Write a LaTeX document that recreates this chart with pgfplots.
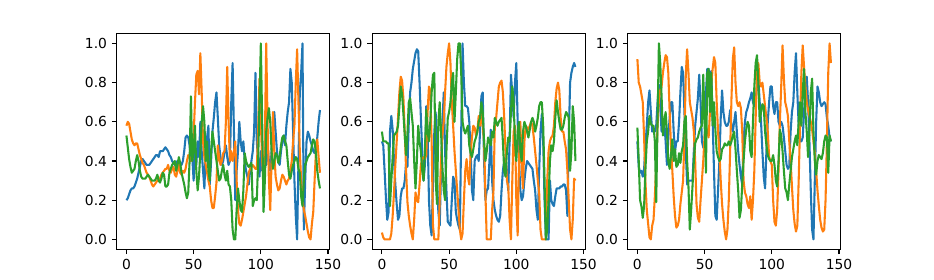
\documentclass[border=0pt]{standalone}
\usepackage{fontspec}
\setmainfont{DejaVu Sans}
\usepackage{pgfplots}
\usepackage{pgfplotstable}
\pgfplotsset{compat=1.18}
\definecolor{c0}{HTML}{1F77B4}
\definecolor{c1}{HTML}{FF7F0E}
\definecolor{c2}{HTML}{2CA02C}
\pgfplotstableread{
x b o g
0 0.20 0.58 0.53
1 0.21 0.60 0.47
2 0.23 0.59 0.41
3 0.25 0.55 0.37
4 0.26 0.51 0.34
5 0.26 0.49 0.35
6 0.27 0.48 0.36
7 0.29 0.49 0.40
8 0.31 0.49 0.43
9 0.34 0.46 0.40
10 0.37 0.43 0.35
11 0.40 0.41 0.32
12 0.41 0.39 0.31
13 0.40 0.38 0.31
14 0.39 0.36 0.31
15 0.38 0.34 0.32
16 0.38 0.33 0.33
17 0.38 0.32 0.32
18 0.39 0.30 0.31
19 0.40 0.28 0.30
20 0.41 0.27 0.30
21 0.42 0.28 0.30
22 0.43 0.29 0.31
23 0.43 0.30 0.33
24 0.42 0.31 0.30
25 0.45 0.31 0.29
26 0.45 0.33 0.31
27 0.45 0.34 0.34
28 0.46 0.35 0.33
29 0.47 0.36 0.27
30 0.46 0.36 0.27
31 0.45 0.38 0.28
32 0.43 0.35 0.34
33 0.42 0.34 0.36
34 0.40 0.36 0.38
35 0.39 0.37 0.39
36 0.38 0.33 0.40
37 0.39 0.32 0.35
38 0.40 0.35 0.38
39 0.40 0.39 0.42
40 0.39 0.34 0.39
41 0.38 0.33 0.34
42 0.40 0.35 0.31
43 0.45 0.34 0.28
44 0.52 0.36 0.24
45 0.53 0.40 0.21
46 0.52 0.43 0.24
47 0.48 0.42 0.40
48 0.40 0.40 0.73
49 0.42 0.41 0.40
50 0.30 0.53 0.45
51 0.45 0.70 0.58
52 0.38 0.84 0.35
53 0.50 0.86 0.25
54 0.42 0.74 0.32
55 0.60 0.95 0.45
56 0.45 0.75 0.60
57 0.35 0.50 0.68
58 0.26 0.42 0.60
59 0.45 0.38 0.40
60 0.52 0.34 0.50
61 0.58 0.30 0.35
62 0.28 0.27 0.30
63 0.40 0.20 0.45
64 0.55 0.16 0.55
65 0.62 0.16 0.50
66 0.70 0.22 0.45
67 0.75 0.29 0.40
68 0.62 0.48 0.35
69 0.48 0.42 0.30
70 0.42 0.38 0.31
71 0.38 0.40 0.35
72 0.40 0.44 0.38
73 0.45 0.45 0.33
74 0.48 0.60 0.30
75 0.42 0.88 0.35
76 0.38 0.60 0.28
77 0.40 0.40 0.27
78 0.70 0.45 0.20
79 0.90 0.40 0.05
80 0.55 0.44 0.00
81 0.20 0.50 0.00
82 0.35 0.30 0.15
83 0.45 0.15 0.26
84 0.60 0.08 0.20
85 0.50 0.07 0.15
86 0.45 0.10 0.14
87 0.50 0.14 0.25
88 0.40 0.18 0.44
89 0.35 0.22 0.40
90 0.32 0.28 0.38
91 0.28 0.34 0.37
92 0.35 0.36 0.38
93 0.40 0.37 0.39
94 0.45 0.38 0.17
95 0.55 0.37 0.20
96 0.85 0.36 0.21
97 0.50 0.36 0.20
98 0.40 0.55 0.40
99 0.32 0.82 0.70
100 0.45 0.60 1.00
101 0.35 0.40 0.60
102 0.42 0.30 0.14
103 0.40 0.50 0.30
104 0.38 1.00 0.55
105 0.48 0.60 0.62
106 0.40 0.30 0.67
107 0.35 0.15 0.60
108 0.45 0.40 0.45
109 0.55 0.65 0.36
110 0.65 0.45 0.40
111 0.55 0.32 0.44
112 0.45 0.28 0.43
113 0.40 0.25 0.39
114 0.38 0.26 0.42
115 0.45 0.30 0.48
116 0.50 0.33 0.52
117 0.53 0.32 0.53
118 0.48 0.30 0.50
119 0.58 0.28 0.48
120 0.65 0.30 0.40
121 0.70 0.31 0.33
122 0.87 0.35 0.31
123 0.80 0.40 0.35
124 0.55 0.50 0.38
125 0.30 0.58 0.40
126 0.12 0.80 0.42
127 0.00 0.97 0.41
128 0.40 0.70 0.36
129 0.75 0.45 0.34
130 0.85 0.30 0.22
131 1.00 0.20 0.17
132 0.05 0.15 0.30
133 0.30 0.12 0.38
134 0.50 0.08 0.40
135 0.55 0.04 0.42
136 0.53 0.01 0.43
137 0.50 0.00 0.44
138 0.48 0.08 0.48
139 0.45 0.14 0.51
140 0.44 0.30 0.50
141 0.47 0.45 0.44
142 0.52 0.51 0.35
143 0.60 0.42 0.30
144 0.66 0.34 0.26
}\tA
\pgfplotstableread{
x b o g
0 0.50 0.035 0.55
1 0.48 0.01 0.50
2 0.35 0.00 0.50
3 0.21 0.00 0.50
4 0.10 0.00 0.49
5 0.14 0.00 0.49
6 0.55 0.00 0.17
7 0.63 0.03 0.30
8 0.56 0.12 0.42
9 0.40 0.24 0.53
10 0.28 0.38 0.54
11 0.18 0.50 0.55
12 0.10 0.62 0.58
13 0.12 0.75 0.68
14 0.22 0.83 0.78
15 0.26 0.81 0.74
16 0.26 0.72 0.64
17 0.30 0.55 0.53
18 0.39 0.35 0.43
19 0.37 0.19 0.54
20 0.60 0.12 0.70
21 0.75 0.07 0.72
22 0.80 0.03 0.65
23 0.87 0.00 0.58
24 0.91 0.10 0.40
25 0.95 0.24 0.26
26 0.97 0.20 0.40
27 0.96 0.19 0.58
28 0.80 0.28 0.50
29 0.62 0.38 0.45
30 0.45 0.41 0.35
31 0.30 0.42 0.30
32 0.38 0.41 0.45
33 0.68 0.43 0.66
34 0.55 0.65 0.55
35 0.20 0.78 0.50
36 0.07 0.76 0.60
37 0.02 0.50 0.75
38 0.30 0.07 0.84
39 0.55 0.00 0.85
40 0.65 0.00 0.30
41 0.30 0.00 0.18
42 0.14 0.00 0.60
43 0.07 0.20 0.70
44 0.35 0.40 0.55
45 0.58 0.53 0.37
46 0.75 0.60 0.25
47 0.45 0.75 0.20
48 0.25 0.88 0.45
49 0.09 0.95 0.62
50 0.08 1.00 0.65
51 0.07 0.90 0.70
52 0.20 0.70 0.80
53 0.32 0.58 0.85
54 0.30 0.45 0.60
55 0.14 0.35 0.75
56 0.10 0.25 0.92
57 0.07 0.15 1.00
58 0.05 0.05 1.00
59 0.55 0.00 0.85
60 1.00 0.03 0.60
61 0.80 0.20 0.56
62 0.68 0.35 0.54
63 0.68 0.41 0.56
64 0.67 0.32 0.58
65 0.60 0.28 0.48
66 0.45 0.44 0.44
67 0.25 0.52 0.42
68 0.20 0.58 0.46
69 0.40 0.57 0.50
70 0.42 0.53 0.52
71 0.43 0.55 0.55
72 0.40 0.63 0.60
73 0.55 0.58 0.62
74 0.73 0.65 0.70
75 0.75 0.58 0.65
76 0.40 0.50 0.50
77 0.20 0.24 0.40
78 0.25 0.00 0.45
79 0.26 0.00 0.52
80 0.40 0.00 0.50
81 0.56 0.00 0.48
82 0.30 0.15 0.55
83 0.20 0.25 0.52
84 0.15 0.58 0.62
85 0.12 0.62 0.60
86 0.10 0.70 0.58
87 0.09 0.78 0.60
88 0.12 0.80 0.61
89 0.25 0.81 0.62
90 0.35 0.75 0.50
91 0.40 0.62 0.35
92 0.42 0.45 0.32
93 0.33 0.30 0.45
94 0.25 0.27 0.52
95 0.50 0.10 0.50
96 0.84 0.00 0.65
97 0.75 0.30 0.78
98 0.62 0.55 0.70
99 0.80 0.58 0.50
100 0.90 0.20 0.40
101 0.60 0.02 0.55
102 0.40 0.40 0.60
103 0.25 0.60 0.45
104 0.20 0.36 0.40
105 0.22 0.26 0.55
106 0.30 0.50 0.60
107 0.36 0.58 0.58
108 0.40 0.57 0.55
109 0.39 0.56 0.52
110 0.38 0.58 0.56
111 0.37 0.60 0.60
112 0.36 0.58 0.62
113 0.30 0.52 0.60
114 0.25 0.45 0.55
115 0.15 0.38 0.58
116 0.10 0.30 0.62
117 0.35 0.24 0.68
118 0.55 0.05 0.70
119 0.64 0.00 0.70
120 0.50 0.00 0.58
121 0.20 0.00 0.30
122 0.00 0.00 0.00
123 0.00 0.30 0.05
124 0.00 0.45 0.20
125 0.30 0.50 0.40
126 0.20 0.52 0.48
127 0.18 0.53 0.45
128 0.17 0.58 0.50
129 0.22 0.70 0.62
130 0.26 0.77 0.71
131 0.26 0.80 0.65
132 0.26 0.76 0.60
133 0.27 0.62 0.56
134 0.27 0.55 0.56
135 0.28 0.55 0.58
136 0.28 0.50 0.62
137 0.25 0.46 0.65
138 0.12 0.35 0.64
139 0.50 0.20 0.62
140 0.80 0.05 0.35
141 0.85 0.00 0.45
142 0.88 0.10 0.68
143 0.90 0.31 0.60
144 0.88 0.30 0.40
}\tB
\pgfplotstableread{
x b o g
0 0.50 0.92 0.57
1 0.37 0.80 0.40
2 0.34 0.78 0.20
3 0.35 0.74 0.17
4 0.32 0.70 0.11
5 0.36 0.52 0.17
6 0.48 0.29 0.36
7 0.58 0.15 0.50
8 0.70 0.08 0.55
9 0.76 0.01 0.63
10 0.65 0.00 0.59
11 0.55 0.07 0.58
12 0.56 0.10 0.58
13 0.55 0.22 0.50
14 0.58 0.38 0.19
15 0.70 0.58 0.60
16 0.79 0.71 1.00
17 0.68 0.76 0.90
18 0.55 0.78 0.73
19 0.55 0.85 0.53
20 0.60 0.90 0.60
21 0.50 0.94 0.65
22 0.38 0.93 0.55
23 0.52 0.85 0.40
24 0.62 0.65 0.36
25 0.70 0.48 0.43
26 0.70 0.35 0.51
27 0.55 0.22 0.40
28 0.45 0.12 0.46
29 0.50 0.06 0.37
30 0.50 0.07 0.38
31 0.60 0.10 0.44
32 0.75 0.18 0.39
33 0.88 0.24 0.45
34 0.85 0.30 0.48
35 0.65 0.52 0.60
36 0.45 0.84 0.63
37 0.28 0.97 0.40
38 0.30 0.85 0.27
39 0.30 0.70 0.05
40 0.30 0.66 0.15
41 0.30 0.62 0.27
42 0.45 0.55 0.40
43 0.58 0.40 0.49
44 0.65 0.18 0.51
45 0.72 0.11 0.52
46 0.84 0.09 0.55
47 0.70 0.20 0.57
48 0.50 0.30 0.58
49 0.47 0.40 0.84
50 0.46 0.53 0.60
51 0.75 0.58 0.34
52 0.87 0.55 0.85
53 0.87 0.52 0.87
54 0.76 0.65 0.65
55 0.86 0.80 0.85
56 0.60 0.87 0.58
57 0.35 0.93 0.70
58 0.12 0.90 0.56
59 0.10 0.70 0.45
60 0.25 0.55 0.42
61 0.40 0.45 0.40
62 0.62 0.30 0.41
63 0.76 0.18 0.46
64 0.65 0.10 0.47
65 0.60 0.04 0.49
66 0.58 0.00 0.48
67 0.58 0.05 0.48
68 0.60 0.20 0.50
69 0.66 0.45 0.48
70 0.58 0.72 0.50
71 0.55 0.92 0.53
72 0.60 0.98 0.55
73 0.65 0.80 0.46
74 0.55 0.70 0.35
75 0.45 0.68 0.25
76 0.38 0.70 0.11
77 0.32 0.67 0.15
78 0.28 0.55 0.28
79 0.50 0.30 0.40
80 0.60 0.24 0.50
81 0.65 0.22 0.56
82 0.67 0.18 0.60
83 0.70 0.16 0.58
84 0.72 0.22 0.45
85 0.75 0.10 0.42
86 0.70 0.20 0.60
87 0.68 0.35 0.78
88 0.72 0.62 0.90
89 0.78 0.86 0.94
90 0.82 0.90 0.80
91 0.70 0.80 0.60
92 0.60 0.78 0.65
93 0.45 0.80 0.69
94 0.32 0.74 0.68
95 0.26 0.68 0.55
96 0.45 0.62 0.48
97 0.60 0.55 0.43
98 0.70 0.42 0.41
99 0.78 0.40 0.40
100 0.78 0.38 0.40
101 0.68 0.20 0.43
102 0.64 0.09 0.38
103 0.70 0.07 0.30
104 0.70 0.15 0.27
105 0.60 0.35 0.40
106 0.58 0.60 0.56
107 0.60 0.78 0.53
108 0.58 0.99 0.45
109 0.52 0.82 0.35
110 0.45 0.70 0.26
111 0.38 0.67 0.24
112 0.36 0.63 0.20
113 0.37 0.50 0.28
114 0.55 0.40 0.35
115 0.65 0.27 0.42
116 0.70 0.15 0.46
117 0.85 0.08 0.50
118 0.95 0.04 0.53
119 0.75 0.07 0.48
120 0.58 0.30 0.60
121 0.50 0.58 0.70
122 0.50 0.85 0.58
123 0.52 0.99 0.75
124 0.65 0.88 0.87
125 0.78 0.78 0.65
126 0.83 0.70 0.55
127 0.70 0.66 0.42
128 0.50 0.63 0.55
129 0.25 0.60 0.75
130 0.05 0.56 0.82
131 0.00 0.50 0.55
132 0.30 0.44 0.40
133 0.60 0.35 0.33
134 0.78 0.25 0.40
135 0.75 0.17 0.43
136 0.70 0.10 0.42
137 0.68 0.06 0.41
138 0.69 0.04 0.44
139 0.70 0.05 0.50
140 0.69 0.20 0.53
141 0.62 0.50 0.52
142 0.58 0.85 0.34
143 0.52 1.00 0.53
144 0.50 0.90 0.50
}\tC
\pgfplotsset{
  myax/.style={
    scale only axis, width=2.129in, height=2.156in, anchor=south west,
    xmin=-7.2, xmax=151.2, ymin=-0.05, ymax=1.05,
    xtick={0,50,100,150}, ytick={0,0.2,0.4,0.6,0.8,1.0},
    yticklabel style={/pgf/number format/.cd, fixed, fixed zerofill, precision=1},
    /pgf/number format/assume math mode=true,
    tick align=outside, xtick pos=bottom, ytick pos=left,
    major tick length=0.0486in,
    tick style={black, line width=0.8pt},
    axis line style={line width=0.8pt},
    ticklabel style={font=\fontsize{10}{12}\selectfont},
    every axis plot/.append style={line width=1.5pt, line join=round, no markers},
  }
}
\begin{document}
\begin{tikzpicture}
\useasboundingbox (0,0) rectangle (9.34in,2.8in);
\begin{axis}[myax, at={(1.1675in,0.308in)}]
\addplot[c0] table[x=x,y=b]{\tA};
\addplot[c1] table[x=x,y=o]{\tA};
\addplot[c2] table[x=x,y=g]{\tA};
\end{axis}
\begin{axis}[myax, at={(3.7223in,0.308in)}]
\addplot[c0] table[x=x,y=b]{\tB};
\addplot[c1] table[x=x,y=o]{\tB};
\addplot[c2] table[x=x,y=g]{\tB};
\end{axis}
\begin{axis}[myax, at={(6.2771in,0.308in)}]
\addplot[c0] table[x=x,y=b]{\tC};
\addplot[c1] table[x=x,y=o]{\tC};
\addplot[c2] table[x=x,y=g]{\tC};
\end{axis}
\end{tikzpicture}
\end{document}
